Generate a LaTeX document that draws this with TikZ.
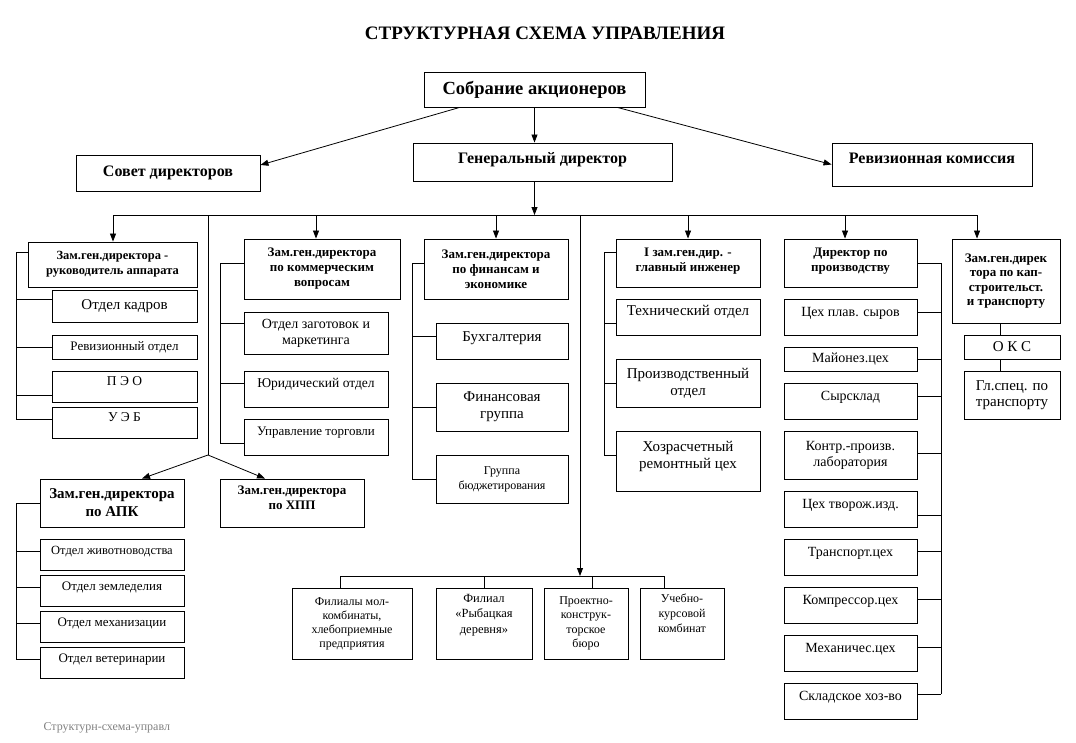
\documentclass[tikz,border=0pt]{standalone}
\usepackage{fontspec}
\setmainfont{Liberation Serif}
\usetikzlibrary{arrows.meta}

\tikzset{
  box/.style 2 args={draw, line width=0.9pt, minimum width=#1, minimum height=#2, inner sep=1pt, align=center},
  hd/.style 2 args={font=\bfseries\fontsize{#1}{#2}\selectfont},
  tx/.style 2 args={font=\fontsize{#1}{#2}\selectfont},
  lift/.style={text depth=#1},
  link/.style={line width=0.8pt},
  arr/.style={line width=0.8pt, ->},
}

\begin{document}
\begin{tikzpicture}[x=1pt, y=-1pt, >={Triangle[length=8pt,width=6pt]}]
\useasboundingbox (0,0) rectangle (1076,742);

\node[hd={19}{22}] (title) at (545,33) {СТРУКТУРНАЯ СХЕМА УПРАВЛЕНИЯ};

% top level
\node[box={221pt}{35pt}, hd={18.5}{21}] (sobr) at (534.5,89.5) {Собрание акционеров};
\node[box={259pt}{38pt}, hd={16}{19}, lift=9pt] (gen) at (542.5,162) {Генеральный директор};
\node[box={184pt}{36pt}, hd={16}{19}] (sovet) at (168,173) {Совет директоров};
\node[box={200pt}{43pt}, hd={16}{19}, lift=13pt] (reviz) at (932,164.5) {Ревизионная комиссия};

\draw[arr] (sobr) -- (sobr |- gen.north);
\draw[arr] ([xshift=36pt]sobr.south west) -- ([yshift=8pt]sovet.east);
\draw[arr] ([xshift=-28pt]sobr.south east) -- (reviz.west);

% bus
\coordinate (b1) at (113,215);
\coordinate (b2) at (208,215);
\coordinate (b3) at (316,215);
\coordinate (b4) at (496,215);
\coordinate (b5) at (580,215);
\coordinate (b6) at (688,215);
\coordinate (b7) at (845,215);
\coordinate (b8) at (977,215);
\draw[link] (b1) -- (b8);
\draw[arr] (gen.south -| sobr.south) -- (sobr.south |- b1);

% deputies
\node[box={169pt}{45pt}, hd={12.5}{15}] (ruk) at (112.5,264.5) {Зам.ген.директора -\\руководитель аппарата};
\node[box={156pt}{60pt}, hd={13}{15}] (kom) at (322,269) {Зам.ген.директора\\по коммерческим\\вопросам};
\node[box={144pt}{60pt}, hd={13}{15}] (fin) at (496,269) {Зам.ген.директора\\по финансам и\\экономике};
\node[box={144pt}{48pt}, hd={13}{15}, lift=7pt] (inzh) at (688,263) {I зам.ген.дир. -\\главный инженер};
\node[box={133pt}{48pt}, hd={13}{15}, lift=7pt] (proizv) at (850.5,263) {Директор по\\производству};
\node[box={108pt}{84pt}, hd={13}{14.5}] (kap) at (1006,281) {Зам.ген.дирек\\тора по кап-\\строительст.\\и транспорту};

\foreach \b/\n in {b1/ruk, b3/kom, b4/fin, b6/inzh, b7/proizv, b8/kap}
  \draw[arr] (\b) -- (\b |- \n.north);

% column 1
\node[box={145pt}{32pt}, tx={15}{17}] (kadry) at (124.5,306) {Отдел кадров};
\node[box={145pt}{24pt}, tx={13}{15}] (revotd) at (124.5,347) {Ревизионный отдел};
\node[box={145pt}{31pt}, tx={13.5}{15}, lift=10pt] (peo) at (124.5,386.5) {П Э О};
\node[box={145pt}{31pt}, tx={13.5}{15}, lift=10pt] (ueb) at (124.5,422.5) {У Э Б};
\draw[link] (16,252) -- (16,419);
\foreach \n/\y in {ruk/252, kadry/299, revotd/347, peo/395, ueb/419}
  \draw[link] (16,\y) -- (\n.west |- 0,\y);

% column 2
\node[box={144pt}{42pt}, tx={14}{16}] (zag) at (316,333) {Отдел заготовок и\\маркетинга};
\node[box={144pt}{36pt}, tx={13.5}{15}, lift=13pt] (yur) at (316,389) {Юридический отдел};
\node[box={144pt}{36pt}, tx={13}{15}, lift=11pt] (torg) at (316,437) {Управление торговли};
\draw[link] (220,263) -- (220,443);
\foreach \n/\y in {kom/263, zag/323, yur/383, torg/443}
  \draw[link] (220,\y) -- (\n.west |- 0,\y);

% column 3
\node[box={132pt}{36pt}, tx={15}{17}, lift=9pt] (buh) at (502,341) {Бухгалтерия};
\node[box={132pt}{48pt}, tx={15}{17}] (fgr) at (502,407) {Финансовая\\группа};
\node[box={132pt}{48pt}, tx={12}{15}] (bud) at (502,479) {Группа\\бюджетирования};
\draw[link] (412,263) -- (412,479);
\foreach \n/\y in {fin/263, buh/336, fgr/407, bud/479}
  \draw[link] (412,\y) -- (\n.west |- 0,\y);

% column 4
\node[box={144pt}{36pt}, tx={15}{17}, lift=13pt] (tech) at (688,317) {Технический отдел};
\node[box={144pt}{48pt}, tx={15}{17}] (prot) at (688,383) {Производственный\\отдел};
\node[box={144pt}{60pt}, tx={15}{17}, lift=13pt] (hoz) at (688,461) {Хозрасчетный\\ремонтный цех};
\draw[link] (604,252) -- (604,455);
\foreach \n/\y in {inzh/252, tech/323, prot/383, hoz/455}
  \draw[link] (604,\y) -- (\n.west |- 0,\y);

% column 5
\node[box={133pt}{36pt}, tx={14}{16}, lift=11pt] (c1) at (850.5,317) {Цех плав. сыров};
\node[box={133pt}{24pt}, tx={14}{16}] (c2) at (850.5,359) {Майонез.цех};
\node[box={133pt}{36pt}, tx={14}{16}, lift=11pt] (c3) at (850.5,401) {Сырсклад};
\node[box={133pt}{48pt}, tx={14}{16}] (c4) at (850.5,455) {Контр.-произв.\\лаборатория};
\node[box={133pt}{36pt}, tx={14}{16}, lift=11pt] (c5) at (850.5,509) {Цех творож.изд.};
\node[box={133pt}{36pt}, tx={14}{16}, lift=11pt] (c6) at (850.5,557) {Транспорт.цех};
\node[box={133pt}{36pt}, tx={14}{16}, lift=11pt] (c7) at (850.5,605) {Компрессор.цех};
\node[box={133pt}{36pt}, tx={14}{16}, lift=11pt] (c8) at (850.5,653) {Механичес.цех};
\node[box={133pt}{36pt}, tx={14}{16}, lift=11pt] (c9) at (850.5,701) {Складское хоз-во};
\draw[link] (941,263) -- (941,694);
\foreach \n/\y in {proizv/263, c1/312, c2/359, c3/396, c4/453, c5/515, c6/551, c7/599, c8/647, c9/694}
  \draw[link] (\n.east |- 0,\y) -- (941,\y);

% column 6
\node[box={96pt}{24pt}, tx={15}{17}] (oks) at (1012,347) {О К С};
\node[box={96pt}{48pt}, tx={15}{16}] (glsp) at (1012,395) {Гл.спец. по\\транспорту};
\draw[link] (kap.south -| 1000,0) -- (oks.north -| 1000,0);
\draw[link] (oks.south -| 1000,0) -- (glsp.north -| 1000,0);

% APK and HPP
\coordinate (split) at (208,455);
\node[box={144pt}{48pt}, hd={15}{18}] (apk) at (112,503) {Зам.ген.директора\\по АПК};
\node[box={144pt}{48pt}, hd={13}{15}, lift=11pt] (hpp) at (292,503) {Зам.ген.директора\\по ХПП};
\draw[link] (b2) -- (split);
\draw[arr] (split) -- ([xshift=30pt]apk.north);
\draw[arr] (split) -- ([xshift=-27pt]hpp.north);

\node[box={144pt}{31pt}, tx={12.5}{15}, lift=9pt] (zhiv) at (112,554.5) {Отдел животноводства};
\node[box={144pt}{31pt}, tx={13}{15}, lift=9pt] (zeml) at (112,590.5) {Отдел земледелия};
\node[box={144pt}{31pt}, tx={13}{15}, lift=9pt] (mech) at (112,626.5) {Отдел механизации};
\node[box={144pt}{31pt}, tx={13}{15}, lift=9pt] (vet) at (112,662.5) {Отдел ветеринарии};
\draw[link] (16,503) -- (16,659);
\foreach \n/\y in {apk/503, zhiv/551, zeml/587, mech/623, vet/659}
  \draw[link] (16,\y) -- (\n.west |- 0,\y);

% branches
\coordinate (lb) at (580,576);
\draw[arr] (b5) -- (lb);
\node[box={120pt}{71pt}, tx={12}{14}] (fil) at (352,623.5) {Филиалы мол-\\комбинаты,\\хлебоприемные\\предприятия};
\node[box={96pt}{71pt}, tx={12.5}{15.5}, lift=20pt] (ryb) at (484,623.5) {Филиал\\«Рыбацкая\\деревня»};
\node[box={84pt}{71pt}, tx={12}{14.5}] (pkb) at (586,623.5) {Проектно-\\конструк-\\торское\\бюро};
\node[box={84pt}{71pt}, tx={12}{15}, lift=20pt] (ucheb) at (682,623.5) {Учебно-\\курсовой\\комбинат};
\draw[link] (340,576) -- (664,576);
\foreach \x/\n in {340/fil, 484/ryb, 592/pkb, 664/ucheb}
  \draw[link] (\x,576) -- (\n.north -| \x,0);

\node[anchor=west, tx={12}{14}, text=gray] (foot) at (40,728) {Структурн-схема-управл};

\end{tikzpicture}
\end{document}
